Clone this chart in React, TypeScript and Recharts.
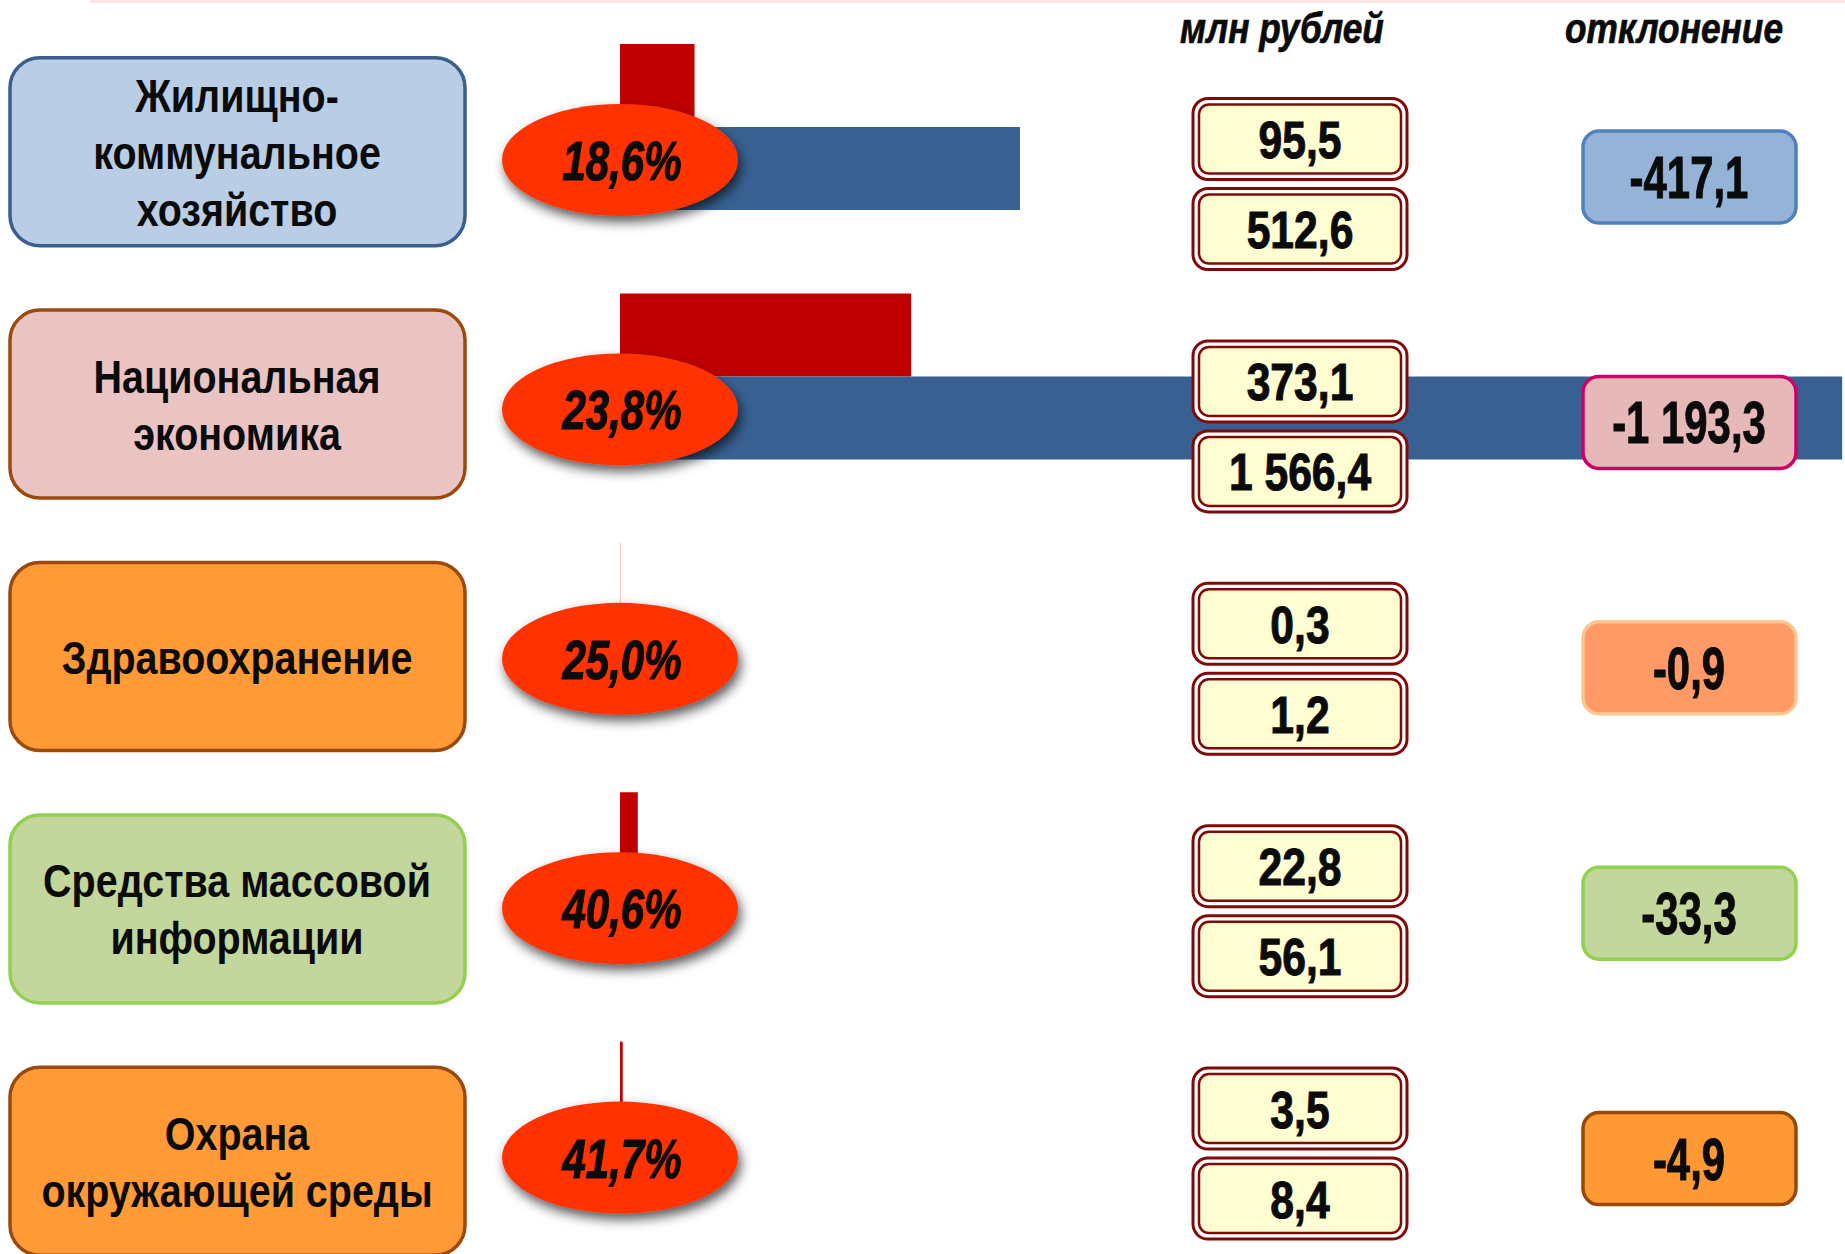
import React from "react";
import { BarChart, Bar, XAxis, YAxis, LabelList } from "recharts";

// categories and values (млн рублей)
const categories = [
  "Жилищно-коммунальное хозяйство",
  "Национальная экономика",
  "Здравоохранение",
  "Средства массовой информации",
  "Охрана окружающей среды",
];
const labelLines = [
  ["Жилищно-", "коммунальное", "хозяйство"],
  ["Национальная", "экономика"],
  ["Здравоохранение"],
  ["Средства массовой", "информации"],
  ["Охрана", "окружающей среды"],
];
const executed = [95.5, 373.1, 0.3, 22.8, 3.5];
const planned = [512.6, 1566.4, 1.2, 56.1, 8.4];
const headers = ["млн рублей", "отклонение"];

const data = categories.map((name, i) => ({ name, executed: executed[i], planned: planned[i] }));

// styles
const labelFill = ["#B9CDE5", "#E9C4C3", "#FF9A36", "#C3D69B", "#FF9A36"];
const labelStroke = ["#3A5F8C", "#9A4A0C", "#9A4A0C", "#92D050", "#9A4A0C"];
const devFill = ["#95B3D7", "#E6B9B8", "#FF9966", "#C3D69B", "#FF9933"];
const devStroke = ["#4F81BD", "#CC0066", "#FFC591", "#92D050", "#984807"];

const FONT = "'Liberation Sans', Arial, Helvetica, sans-serif";

const fmt = (v: number) => {
  const [i, d] = Math.abs(v).toFixed(1).split(".");
  const int = i.replace(/\B(?=(\d{3})+(?!\d))/g, "\u00a0");
  return (v < -0.00001 ? "-" : "") + int + "," + d;
};

// bold text squeezed horizontally to look like a narrow face
function NText({ x, y, size, sx, italic = false, thick = 0, children }: any) {
  return (
    <text
      transform={`translate(${x},${y}) scale(${sx},1)`}
      textAnchor="middle"
      fontFamily={FONT}
      fontWeight="bold"
      fontStyle={italic ? "italic" : "normal"}
      fontSize={size}
      fill="#0B0B0B"
      stroke={thick ? "#0B0B0B" : "none"}
      strokeWidth={thick}
    >
      {children}
    </text>
  );
}

function CategoryTick(props: any) {
  const { y, payload } = props;
  const i = categories.indexOf(payload.value);
  const cy = y + 25 + 3 * i;
  const lines = labelLines[i];
  const lh = 57;
  return (
    <g>
      <rect x={10} y={cy - 94} width={455} height={188} rx={30} fill={labelFill[i]} stroke={labelStroke[i]} strokeWidth={3.5} />
      {lines.map((l, k) => (
        <NText key={k} x={237} y={cy + 17 + (k - (lines.length - 1) / 2) * lh} size={47} sx={0.84}>
          {l}
        </NText>
      ))}
    </g>
  );
}

function ValueBox({ cx, cy, text }: any) {
  const w = 214;
  const h = 81;
  return (
    <g>
      <rect x={cx - w / 2} y={cy - h / 2} width={w} height={h} rx={15} fill="#FFFFFF" stroke="#7E0A0A" strokeWidth={3} />
      <rect x={cx - w / 2 + 6} y={cy - h / 2 + 6} width={w - 12} height={h - 12} rx={10} fill="#FEFED2" stroke="#7E0A0A" strokeWidth={2.5} />
      <NText x={cx} y={cy + 19} size={52} sx={0.82} thick={1}>
        {text}
      </NText>
    </g>
  );
}

function RowOverlay(props: any) {
  const index = props.index;
  const vb = props.viewBox ?? props;
  const c = vb.y ?? props.y;
  const pct = ((executed[index] / planned[index]) * 100).toFixed(1).replace(".", ",") + "%";
  const dev = executed[index] - planned[index];
  const ey = c + 33;
  const vy = c + 57 - 7 * index;
  const dy = c + 50 - 4 * index;
  return (
    <g>
      <ellipse cx={620} cy={ey} rx={118} ry={56} fill="#FF3300" filter="url(#ellShadow)" />
      <NText x={622} y={ey + 20} size={56} sx={0.75} italic thick={1.2}>
        {pct}
      </NText>
      <ValueBox cx={1300} cy={vy - 45} text={fmt(executed[index])} />
      <ValueBox cx={1300} cy={vy + 45} text={fmt(planned[index])} />
      <rect x={1583} y={dy - 46} width={213} height={92} rx={16} fill={devFill[index]} stroke={devStroke[index]} strokeWidth={3.5} />
      <NText x={1689} y={dy + 21} size={59} sx={0.71} thick={1}>
        {fmt(dev)}
      </NText>
    </g>
  );
}

export default function App() {
  return (
    <div style={{ position: "relative", width: 1845, height: 1254, overflow: "hidden", background: "#fff" }}>
      <style>{`body{margin:0}`}</style>
      <svg width={0} height={0} style={{ position: "absolute" }}>
        <defs>
          <filter id="ellShadow" x="-20%" y="-30%" width="150%" height="170%">
            <feDropShadow dx="3" dy="6" stdDeviation="6" floodColor="#000" floodOpacity="0.65" />
          </filter>
        </defs>
      </svg>
      <BarChart
        width={1845}
        height={1254}
        data={data}
        layout="vertical"
        margin={{ top: 2, right: 0, bottom: 5, left: 0 }}
        barGap={0}
        barSize={83}
      >
        <XAxis type="number" domain={[0, 1570]} hide />
        <Bar dataKey="executed" fill="#C00000" isAnimationActive={false} />
        <Bar dataKey="planned" fill="#386192" isAnimationActive={false}>
          <LabelList dataKey="planned" content={<RowOverlay />} />
        </Bar>
        <YAxis type="category" dataKey="name" width={620} axisLine={false} tickLine={false} interval={0} tick={<CategoryTick />} />
      </BarChart>
      <svg width={1845} height={1254} style={{ position: "absolute", left: 0, top: 0, pointerEvents: "none" }}>
        <rect x={90} y={0} width={1755} height={3} fill="#FBE3E3" />
        <NText x={1282} y={43} size={42} sx={0.84} italic thick={0.7}>
          {headers[0]}
        </NText>
        <NText x={1674} y={43} size={42} sx={0.84} italic thick={0.7}>
          {headers[1]}
        </NText>
      </svg>
    </div>
  );
}
